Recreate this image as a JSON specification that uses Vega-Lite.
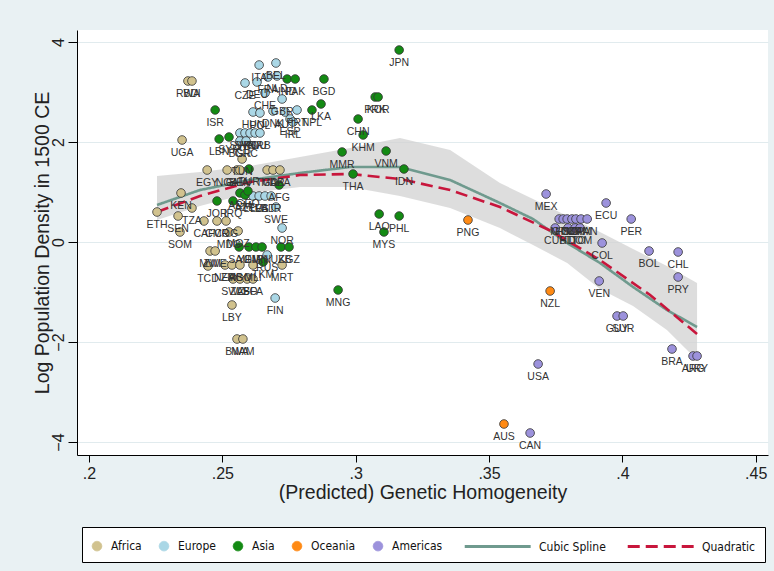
{
"$schema":"https://vega.github.io/schema/vega-lite/v6.json",
"width":691,"height":425,
"autosize":{"type":"none"},
"padding":{"left":77,"top":30,"right":6,"bottom":116},
"background":"#e9f1f3",
"config":{"view":{"fill":"white","stroke":null},"font":"Liberation Sans"},
"datasets":{
"band":[
{"x":0.2255,"lo":0.44,"hi":1.32},{"x":0.2416,"lo":0.72,"hi":1.40},{"x":0.2604,"lo":0.98,"hi":1.52},{"x":0.2791,"lo":1.10,"hi":1.70},{"x":0.2979,"lo":1.10,"hi":1.88},{"x":0.3166,"lo":0.92,"hi":2.08},{"x":0.3354,"lo":0.68,"hi":1.84},{"x":0.3541,"lo":0.28,"hi":1.18},{"x":0.3665,"lo":-0.06,"hi":0.86},{"x":0.3793,"lo":-0.42,"hi":0.52},{"x":0.3916,"lo":-0.94,"hi":0.20},{"x":0.4040,"lo":-1.28,"hi":-0.14},{"x":0.4167,"lo":-1.76,"hi":-0.48},{"x":0.4280,"lo":-2.36,"hi":-0.82}
],
"fit":[
{"g":"Cubic Spline","x":0.2255,"y":0.74},{"g":"Cubic Spline","x":0.2416,"y":1.04},{"g":"Cubic Spline","x":0.2604,"y":1.24},{"g":"Cubic Spline","x":0.2791,"y":1.38},{"g":"Cubic Spline","x":0.2979,"y":1.50},{"g":"Cubic Spline","x":0.3166,"y":1.50},{"g":"Cubic Spline","x":0.3354,"y":1.24},{"g":"Cubic Spline","x":0.3541,"y":0.78},{"g":"Cubic Spline","x":0.3665,"y":0.46},{"g":"Cubic Spline","x":0.3793,"y":-0.02},{"g":"Cubic Spline","x":0.3916,"y":-0.42},{"g":"Cubic Spline","x":0.4040,"y":-0.90},{"g":"Cubic Spline","x":0.4167,"y":-1.36},{"g":"Cubic Spline","x":0.4280,"y":-1.70},
{"g":"Quadratic","x":0.2255,"y":0.60},{"g":"Quadratic","x":0.2416,"y":0.92},{"g":"Quadratic","x":0.2604,"y":1.20},{"g":"Quadratic","x":0.2791,"y":1.34},{"g":"Quadratic","x":0.2979,"y":1.36},{"g":"Quadratic","x":0.3166,"y":1.26},{"g":"Quadratic","x":0.3354,"y":1.04},{"g":"Quadratic","x":0.3541,"y":0.70},{"g":"Quadratic","x":0.3729,"y":0.23},{"g":"Quadratic","x":0.3916,"y":-0.36},{"g":"Quadratic","x":0.4104,"y":-1.06},{"g":"Quadratic","x":0.4280,"y":-1.84}
],
"pts":[
{"c":"RWA","g":"Africa","x":0.2371,"y":3.22},{"c":"BDI","g":"Africa","x":0.2386,"y":3.22},{"c":"UGA","g":"Africa","x":0.2349,"y":2.04},{"c":"KEN","g":"Africa","x":0.2345,"y":0.98},{"c":"ETH","g":"Africa","x":0.2255,"y":0.60},{"c":"SEN","g":"Africa","x":0.2334,"y":0.52},{"c":"SOM","g":"Africa","x":0.2341,"y":0.20},{"c":"TZA","g":"Africa","x":0.2386,"y":0.68},{"c":"EGY","g":"Africa","x":0.2443,"y":1.44},{"c":"NGA","g":"Africa","x":0.2518,"y":1.44},{"c":"GHA","g":"Africa","x":0.2555,"y":1.44},{"c":"BEN","g":"Africa","x":0.2566,"y":1.44},{"c":"TGO","g":"Africa","x":0.2668,"y":1.44},{"c":"MAR","g":"Africa","x":0.2690,"y":1.44},{"c":"DZA","g":"Africa","x":0.2716,"y":1.44},{"c":"TUN","g":"Africa","x":0.2574,"y":1.66},{"c":"CAF","g":"Africa","x":0.2431,"y":0.42},{"c":"CMR","g":"Africa","x":0.2480,"y":0.42},{"c":"COG","g":"Africa","x":0.2514,"y":0.42},{"c":"MDG","g":"Africa","x":0.2525,"y":0.20},{"c":"MOZ","g":"Africa","x":0.2559,"y":0.22},{"c":"MWI","g":"Africa","x":0.2454,"y":-0.18},{"c":"ZWE","g":"Africa","x":0.2473,"y":-0.18},{"c":"TCD","g":"Africa","x":0.2446,"y":-0.48},{"c":"NER","g":"Africa","x":0.2510,"y":-0.46},{"c":"ZMB","g":"Africa","x":0.2536,"y":-0.46},{"c":"AGO","g":"Africa","x":0.2566,"y":-0.46},{"c":"MLI","g":"Africa","x":0.2615,"y":-0.46},{"c":"MRT","g":"Africa","x":0.2724,"y":-0.46},{"c":"SWZ","g":"Africa","x":0.2540,"y":-0.74},{"c":"ZAF","g":"Africa","x":0.2566,"y":-0.74},{"c":"LSO","g":"Africa","x":0.2593,"y":-0.74},{"c":"BFA","g":"Africa","x":0.2615,"y":-0.74},{"c":"LBY","g":"Africa","x":0.2536,"y":-1.26},{"c":"BWA","g":"Africa","x":0.2555,"y":-1.94},{"c":"NAM","g":"Africa","x":0.2577,"y":-1.94},
{"c":"ITA","g":"Europe","x":0.2638,"y":3.54},{"c":"BEL","g":"Europe","x":0.2701,"y":3.58},{"c":"CZE","g":"Europe","x":0.2585,"y":3.18},{"c":"DEU","g":"Europe","x":0.2630,"y":3.20},{"c":"FRA","g":"Europe","x":0.2671,"y":3.30},{"c":"NLD","g":"Europe","x":0.2705,"y":3.32},{"c":"CHE","g":"Europe","x":0.2660,"y":2.98},{"c":"GBR","g":"Europe","x":0.2724,"y":2.86},{"c":"HUN","g":"Europe","x":0.2615,"y":2.60},{"c":"POL","g":"Europe","x":0.2641,"y":2.58},{"c":"DNK","g":"Europe","x":0.2690,"y":2.62},{"c":"AUT","g":"Europe","x":0.2735,"y":2.60},{"c":"PRT","g":"Europe","x":0.2780,"y":2.64},{"c":"ESP","g":"Europe","x":0.2754,"y":2.46},{"c":"IRL","g":"Europe","x":0.2765,"y":2.40},{"c":"SVK","g":"Europe","x":0.2566,"y":2.18},{"c":"SVN","g":"Europe","x":0.2585,"y":2.18},{"c":"HRV","g":"Europe","x":0.2604,"y":2.18},{"c":"ROU","g":"Europe","x":0.2623,"y":2.18},{"c":"SRB","g":"Europe","x":0.2641,"y":2.18},{"c":"BGR","g":"Europe","x":0.2566,"y":2.02},{"c":"GRC","g":"Europe","x":0.2589,"y":2.02},{"c":"LTU","g":"Europe","x":0.2615,"y":0.92},{"c":"LVA","g":"Europe","x":0.2638,"y":0.92},{"c":"EST","g":"Europe","x":0.2660,"y":0.92},{"c":"BLR","g":"Europe","x":0.2683,"y":0.92},{"c":"SWE","g":"Europe","x":0.2701,"y":0.70},{"c":"NOR","g":"Europe","x":0.2724,"y":0.28},{"c":"RUS","g":"Europe","x":0.2668,"y":-0.26},{"c":"FIN","g":"Europe","x":0.2698,"y":-1.12},
{"c":"JPN","g":"Asia","x":0.3163,"y":3.84},{"c":"BGD","g":"Asia","x":0.2881,"y":3.26},{"c":"LKA","g":"Asia","x":0.2870,"y":2.76},{"c":"NPL","g":"Asia","x":0.2836,"y":2.64},{"c":"IND","g":"Asia","x":0.2743,"y":3.26},{"c":"PAK","g":"Asia","x":0.2773,"y":3.26},{"c":"PRK","g":"Asia","x":0.3073,"y":2.90},{"c":"KOR","g":"Asia","x":0.3084,"y":2.90},{"c":"CHN","g":"Asia","x":0.3009,"y":2.46},{"c":"KHM","g":"Asia","x":0.3028,"y":2.14},{"c":"MMR","g":"Asia","x":0.2949,"y":1.80},{"c":"VNM","g":"Asia","x":0.3114,"y":1.82},{"c":"THA","g":"Asia","x":0.2990,"y":1.36},{"c":"IDN","g":"Asia","x":0.3181,"y":1.46},{"c":"LAO","g":"Asia","x":0.3088,"y":0.56},{"c":"PHL","g":"Asia","x":0.3163,"y":0.52},{"c":"MYS","g":"Asia","x":0.3106,"y":0.20},{"c":"MNG","g":"Asia","x":0.2934,"y":-0.96},{"c":"AFG","g":"Asia","x":0.2713,"y":1.14},{"c":"ISR","g":"Asia","x":0.2473,"y":2.64},{"c":"LBN","g":"Asia","x":0.2488,"y":2.06},{"c":"SYR","g":"Asia","x":0.2525,"y":2.10},{"c":"TUR","g":"Asia","x":0.2600,"y":1.46},{"c":"ARM","g":"Asia","x":0.2566,"y":0.98},{"c":"AZE","g":"Asia","x":0.2585,"y":0.94},{"c":"GEO","g":"Asia","x":0.2596,"y":1.02},{"c":"JOR","g":"Asia","x":0.2480,"y":0.82},{"c":"IRQ","g":"Asia","x":0.2540,"y":0.82},{"c":"SAU","g":"Asia","x":0.2563,"y":-0.10},{"c":"YEM","g":"Asia","x":0.2600,"y":-0.10},{"c":"OMN","g":"Asia","x":0.2626,"y":-0.10},{"c":"IRN","g":"Asia","x":0.2649,"y":-0.10},{"c":"UZB","g":"Asia","x":0.2720,"y":-0.10},{"c":"KGZ","g":"Asia","x":0.2750,"y":-0.10},{"c":"TKM","g":"Asia","x":0.2653,"y":-0.40},
{"c":"PNG","g":"Oceania","x":0.3421,"y":0.44},{"c":"NZL","g":"Oceania","x":0.3729,"y":-0.98},{"c":"AUS","g":"Oceania","x":0.3556,"y":-3.64},
{"c":"MEX","g":"Americas","x":0.3714,"y":0.96},{"c":"ECU","g":"Americas","x":0.3939,"y":0.78},{"c":"PER","g":"Americas","x":0.4033,"y":0.46},{"c":"NIC","g":"Americas","x":0.3763,"y":0.46},{"c":"GTM","g":"Americas","x":0.3778,"y":0.46},{"c":"HND","g":"Americas","x":0.3793,"y":0.46},{"c":"SLV","g":"Americas","x":0.3811,"y":0.46},{"c":"CRI","g":"Americas","x":0.3826,"y":0.46},{"c":"JAM","g":"Americas","x":0.3845,"y":0.46},{"c":"PAN","g":"Americas","x":0.3868,"y":0.46},{"c":"CUB","g":"Americas","x":0.3748,"y":0.28},{"c":"HTI","g":"Americas","x":0.3796,"y":0.28},{"c":"TTO","g":"Americas","x":0.3823,"y":0.28},{"c":"DOM","g":"Americas","x":0.3841,"y":0.28},{"c":"COL","g":"Americas","x":0.3924,"y":-0.02},{"c":"BOL","g":"Americas","x":0.4100,"y":-0.18},{"c":"CHL","g":"Americas","x":0.4209,"y":-0.20},{"c":"PRY","g":"Americas","x":0.4209,"y":-0.70},{"c":"VEN","g":"Americas","x":0.3913,"y":-0.78},{"c":"GUY","g":"Americas","x":0.3980,"y":-1.48},{"c":"SUR","g":"Americas","x":0.4003,"y":-1.48},{"c":"BRA","g":"Americas","x":0.4186,"y":-2.14},{"c":"ARG","g":"Americas","x":0.4265,"y":-2.28},{"c":"URY","g":"Americas","x":0.4280,"y":-2.28},{"c":"USA","g":"Americas","x":0.3684,"y":-2.44},{"c":"CAN","g":"Americas","x":0.3654,"y":-3.82}
]
},
"layer":[
{"data":{"name":"band"},
 "mark":{"type":"area","color":"#d2d2d2","opacity":0.75},
 "encoding":{
  "x":{"field":"x","type":"quantitative","scale":{"domain":[0.1955,0.4546],"nice":false,"zero":false},
   "axis":{"values":[0.2,0.25,0.3,0.35,0.4,0.45],"labelExpr":"substring(format(datum.value,'.2~f'),1)","title":"(Predicted) Genetic Homogeneity","grid":false,"domainColor":"#000","tickColor":"#000","tickSize":7,"labelFontSize":16,"labelColor":"#222","labelFont":"Liberation Sans","titleFont":"Liberation Sans","titleFontSize":19.5,"titleFontWeight":"normal","titleColor":"#222","labelPadding":3,"titlePadding":2}},
  "y":{"field":"lo","type":"quantitative","scale":{"domain":[-4.26,4.24],"nice":false,"zero":false},
   "axis":{"values":[-4,-2,0,2,4],"labelAngle":-90,"title":"Log Population Density in 1500 CE","grid":true,"gridColor":"#e1ebee","domainColor":"#000","tickColor":"#000","tickSize":9,"labelFontSize":16,"labelColor":"#222","labelFont":"Liberation Sans","titleFont":"Liberation Sans","titleFontSize":19.5,"titleFontWeight":"normal","titleColor":"#222","labelPadding":2,"titlePadding":-2}},
  "y2":{"field":"hi"}
 }},
{"data":{"name":"fit"},
 "mark":{"type":"line","strokeWidth":2.6},
 "encoding":{
  "x":{"field":"x","type":"quantitative","scale":{"domain":[0.1955,0.4546],"nice":false,"zero":false}},
  "y":{"field":"y","type":"quantitative","scale":{"domain":[-4.26,4.24],"nice":false,"zero":false}},
  "color":{"field":"g","type":"nominal","scale":{"domain":["Africa","Europe","Asia","Oceania","Americas","Cubic Spline","Quadratic"],"range":["#d1c28e","#aad7e6","#138a13","#ff8a14","#9c92dc","#6f9a8e","#c8163c"]},
   "legend":{"orient":"none","legendX":5,"legendY":497,"direction":"horizontal","title":" ","titleOrient":"top","titleFontSize":1,"titlePadding":3,"strokeColor":"#000","fillColor":"#fff","padding":9,"columnPadding":15,"symbolSize":90,"labelFont":"DejaVu Sans Condensed, Liberation Sans","labelFontSize":12,"labelColor":"#111","labelOffset":8,"symbolStrokeWidth":1,
    "encode":{"symbols":{"update":{"fill":{"scale":"color","field":"value"},"stroke":{"signal":"datum.value==='Cubic Spline'?'#6f9a8e':datum.value==='Quadratic'?'#c8163c':'#333'"},"strokeWidth":{"signal":"(datum.value==='Cubic Spline'||datum.value==='Quadratic')?3:1"}}},"labels":{"update":{"dx":{"signal":"(datum.value==='Cubic Spline'||datum.value==='Quadratic')?56:0"}}}}}},
  "strokeDash":{"field":"g","type":"nominal","scale":{"domain":["Africa","Europe","Asia","Oceania","Americas","Cubic Spline","Quadratic"],"range":[[1,0],[1,0],[1,0],[1,0],[1,0],[1,0],[12,6]]}}
 }},
{"data":{"name":"pts"},
 "mark":{"type":"point","filled":true,"size":75,"stroke":"#333","strokeWidth":0.8,"opacity":1},
 "encoding":{
  "x":{"field":"x","type":"quantitative","scale":{"domain":[0.1955,0.4546],"nice":false,"zero":false}},
  "y":{"field":"y","type":"quantitative","scale":{"domain":[-4.26,4.24],"nice":false,"zero":false}},
  "color":{"field":"g","type":"nominal"},
  "shape":{"field":"g","type":"nominal","scale":{"domain":["Africa","Europe","Asia","Oceania","Americas","Cubic Spline","Quadratic"],"range":["circle","circle","circle","circle","circle","M-0.9,0H13","M-0.9,0H13"]}}
 }},
{"data":{"name":"pts"},
 "mark":{"type":"text","dy":13,"fontSize":10.5,"color":"#333","font":"Liberation Sans"},
 "encoding":{
  "x":{"field":"x","type":"quantitative","scale":{"domain":[0.1955,0.4546],"nice":false,"zero":false}},
  "y":{"field":"y","type":"quantitative","scale":{"domain":[-4.26,4.24],"nice":false,"zero":false}},
  "text":{"field":"c"}
 }}
]
}
